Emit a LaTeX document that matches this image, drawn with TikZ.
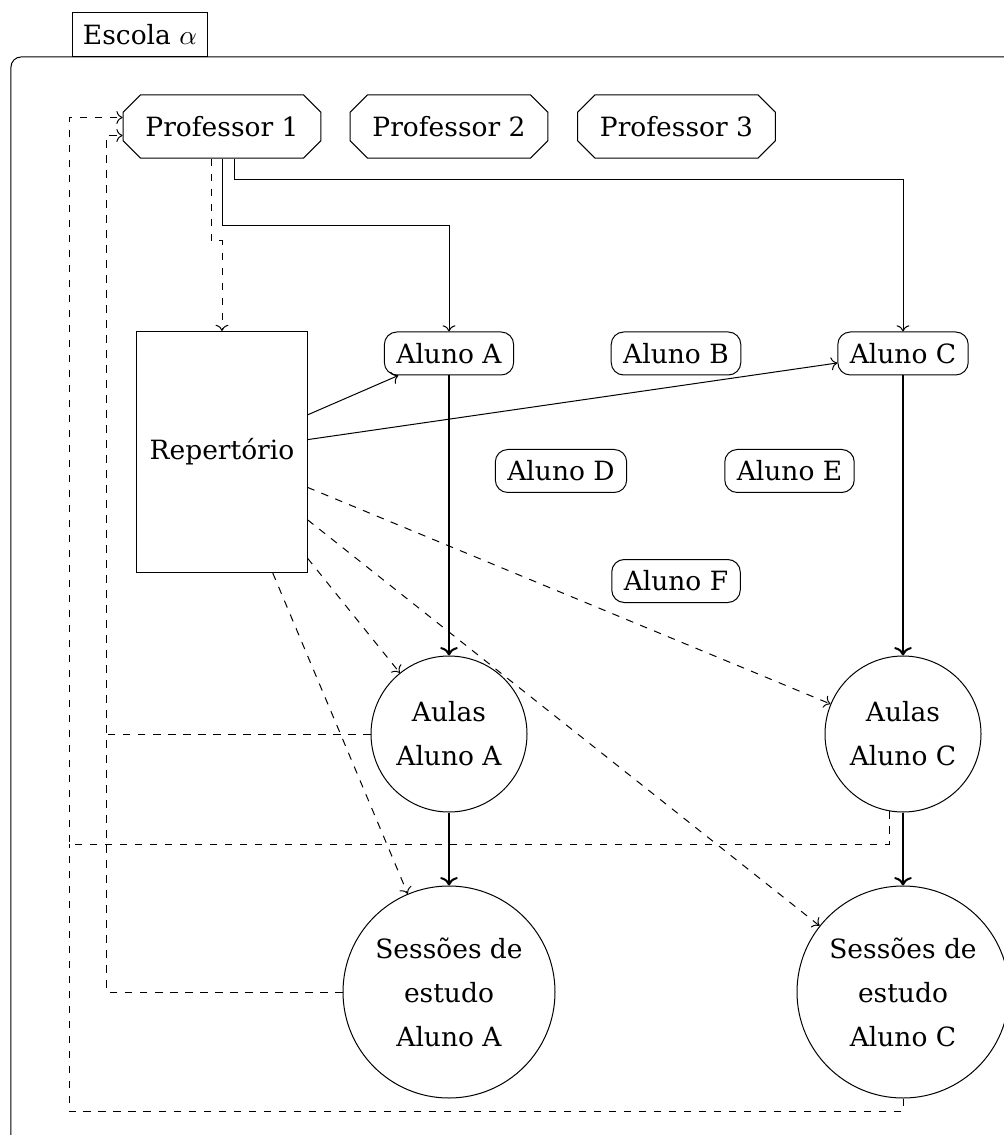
\documentclass[tikz,border=0pt]{standalone}
\usepackage{fontspec}
\setmainfont{DejaVu Serif}
\usetikzlibrary{arrows.meta, positioning, shapes.misc, calc}

\begin{document}
\begin{tikzpicture}[
    on grid,
    every node/.style={font=\fontsize{10.6pt}{17.6pt}\selectfont},
    prof/.style={chamfered rectangle, draw, chamfered rectangle xsep=3.5pt,
                 chamfered rectangle ysep=3.5pt, inner xsep=5.45pt, inner ysep=5.07pt},
    aluno/.style={rectangle, rounded corners=5pt, draw, inner xsep=4.8pt, minimum height=17.2pt},
    repbox/.style={rectangle, draw, minimum width=68pt, minimum height=96.4pt},
    aulas/.style={circle, draw, align=center, minimum size=62.4pt, inner sep=0pt},
    sessao/.style={circle, draw, align=center, minimum size=84.8pt, inner sep=0pt},
    arrow/.style={->},
    main/.style={->, thick},
    fb/.style={->, dashed}
]
    \useasboundingbox (-88.8pt,50.6pt) rectangle (312.4pt,-403.4pt);

    % Professores
    \node[prof] (p1) at (0,0) {Professor 1};
    \node[prof, right=90.8pt of p1] (p2) {Professor 2};
    \node[prof, right=91pt of p2] (p3) {Professor 3};

    % Repertorio e alunos
    \node[repbox, below=130.2pt of p1] (rep) {Repertório};
    \node[aluno, below=90.8pt of p2] (alA) {Aluno A};
    \node[aluno, right=90.8pt of alA] (alB) {Aluno B};
    \node[aluno, right=90.8pt of alB] (alC) {Aluno C};
    \node[aluno, below right=47pt and 44.8pt of alA] (alD) {Aluno D};
    \node[aluno, below right=47pt and 45.4pt of alB] (alE) {Aluno E};
    \node[aluno, below=91pt of alB] (alF) {Aluno F};

    % Aulas e sessoes de estudo
    \node[aulas, below=152.2pt of alA] (aulasA) {Aulas\\Aluno A};
    \node[aulas, below=152.2pt of alC] (aulasC) {Aulas\\Aluno C};
    \node[sessao, below=103.2pt of aulasA] (sessA) {Sessões de\\estudo\\Aluno A};
    \node[sessao, below=103.2pt of aulasC] (sessC) {Sessões de\\estudo\\Aluno C};

    % Escola
    \coordinate (framenw) at (-84.4pt,27.8pt);
    \draw[rounded corners] (framenw) rectangle (330pt,-420pt);
    \node[draw, anchor=south west, inner xsep=4.2pt, minimum height=17.6pt] (escola)
        at ([xshift=24.4pt]framenw) {Escola $\alpha$};

    % Professor 1
    \draw[arrow, dashed] ([xshift=-4.4pt]p1.south) -- ++(0,-32.8pt) -| (rep.north);
    \draw[arrow] (p1.south) -- ++(0,-26.8pt) -| (alA.north);
    \draw[arrow] ([xshift=4.8pt]p1.south) -- ++(0,-8.4pt) -| (alC.north);

    % Repertorio
    \draw[arrow] (rep) -- (alA);
    \draw[arrow] (rep) -- (alC);
    \draw[arrow, dashed] (rep) -- (aulasA);
    \draw[arrow, dashed] (rep) -- (aulasC);
    \draw[arrow, dashed] (rep) -- (sessA);
    \draw[arrow, dashed] (rep) -- (sessC);

    % Aluno A e Aluno C
    \draw[main] (alA) -- (aulasA);
    \draw[main] (aulasA) -- (sessA);
    \draw[main] (alC) -- (aulasC);
    \draw[main] (aulasC) -- (sessC);

    % Retorno ao professor
    \coordinate (fbin) at ([xshift=-6.4pt, yshift=-3.6pt]p1.west);
    \coordinate (fbout) at ([xshift=-21.3pt, yshift=3.6pt]p1.west);
    \draw[fb] (sessA.west) -| (fbin) -- (fbin -| p1.west);
    \draw[dashed] (aulasA.west) -- (aulasA.west -| fbin);
    \draw[fb] (aulasC.260) -- ++(0,-13.2pt) -| (fbout) -- (fbout -| p1.west);
    \draw[dashed] (sessC.south) -- ++(0,-5.2pt) -| ($(aulasC.260 -| fbout)+(0,-13.2pt)$);
\end{tikzpicture}
\end{document}
